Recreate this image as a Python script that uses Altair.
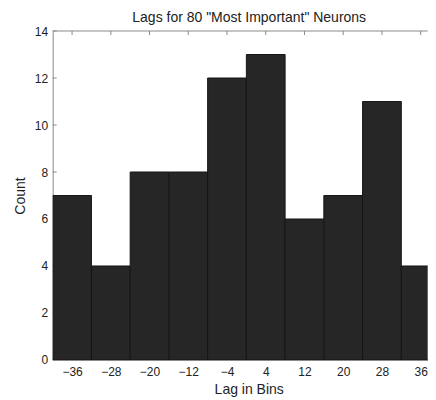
import altair as alt
import pandas as pd

# Histogram data
bin_starts = [-40, -32, -24, -16, -8, 0, 8, 16, 24, 32]
counts = [7, 4, 8, 8, 12, 13, 6, 7, 11, 4]
bin_width = 8
x_ticks = [-36, -28, -20, -12, -4, 4, 12, 20, 28, 36]
y_ticks = [0, 2, 4, 6, 8, 10, 12, 14]

x_domain = [-40, 37.45]
y_domain = [0, 14]

bars_df = pd.DataFrame({
    "start": bin_starts,
    "end": [s + bin_width for s in bin_starts],
    "count": counts,
    "base": [0] * len(counts),
})
xt_df = pd.DataFrame({"t": x_ticks})
yt_df = pd.DataFrame({"v": y_ticks})

FONT = "Liberation Sans"
AX = "#8a8a8a"

xscale = alt.Scale(domain=x_domain, nice=False, zero=False)
yscale = alt.Scale(domain=y_domain, nice=False)

bars = alt.Chart(bars_df).mark_bar(
    fill="#262626", stroke="#151515", strokeWidth=1, clip=True
).encode(
    x=alt.X("start:Q", scale=xscale,
            axis=alt.Axis(values=x_ticks, title="Lag in Bins", tickSize=0,
                          labelPadding=7, titlePadding=5, titleX=196,
                          grid=False, domainColor=AX,
                          labelFontSize=12, titleFontSize=14,
                          labelColor="#222", titleColor="#222",
                          labelFont=FONT, titleFont=FONT,
                          titleFontWeight="normal")),
    x2="end:Q",
    y=alt.Y("count:Q", scale=yscale,
            axis=alt.Axis(values=y_ticks, title="Count", tickSize=0,
                          labelPadding=5, titlePadding=7,
                          grid=False, domainColor=AX,
                          labelFontSize=12, titleFontSize=14,
                          labelColor="#222", titleColor="#222",
                          labelFont=FONT, titleFont=FONT,
                          titleFontWeight="normal")),
    y2="base:Q",
)

top_line = alt.Chart(pd.DataFrame({"a": [x_domain[0]], "b": [x_domain[1]], "y": [y_domain[1]]})).mark_rule(
    color=AX, strokeWidth=1
).encode(
    x=alt.X("a:Q", scale=xscale),
    x2="b:Q",
    y=alt.Y("y:Q", scale=yscale),
)

top_ticks = alt.Chart(xt_df).mark_rule(color=AX, strokeWidth=1).encode(
    x=alt.X("t:Q", scale=xscale),
    y=alt.value(0),
    y2=alt.value(4),
)

left_ticks = alt.Chart(yt_df).mark_rule(color=AX, strokeWidth=1).encode(
    y=alt.Y("v:Q", scale=yscale),
    x=alt.value(0),
    x2=alt.value(4),
)

chart = alt.layer(left_ticks, bars, top_line, top_ticks).properties(
    width=375,
    height=329,
    title=alt.TitleParams(
        'Lags for 80 "Most Important" Neurons',
        font=FONT, fontSize=14, fontWeight="normal", color="#222",
        frame="group", offset=0, dx=9,
    ),
    autosize=alt.AutoSizeParams(type="none"),
    padding={"left": 44.7, "top": 23, "right": 0, "bottom": 44},
).configure_view(stroke=None)

chart.save("out.html", embed_options={"renderer": "svg", "actions": False})
